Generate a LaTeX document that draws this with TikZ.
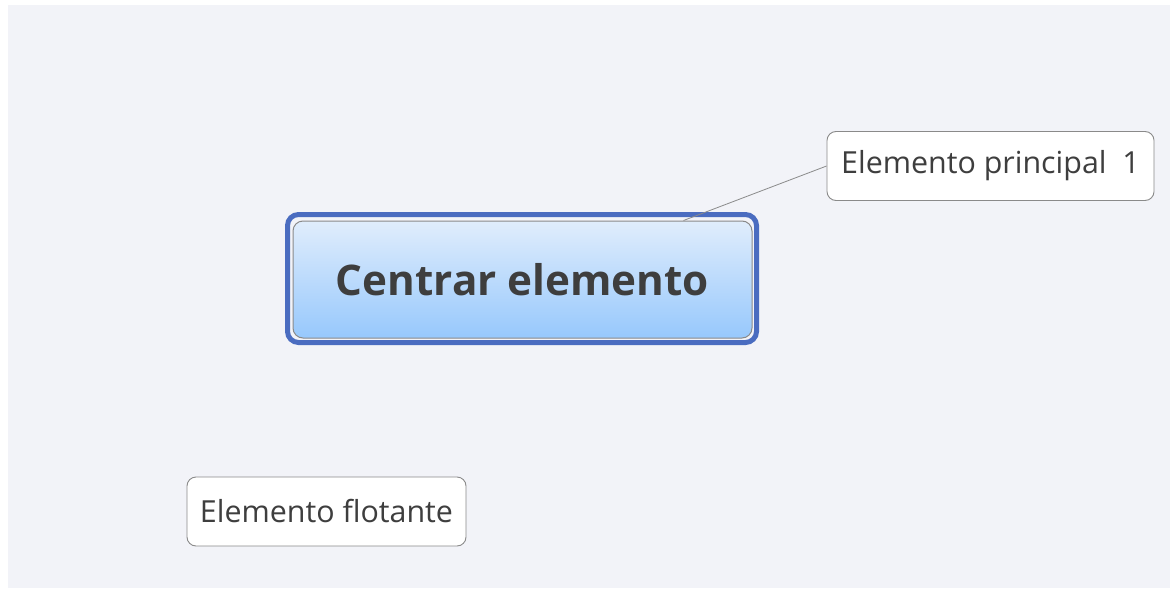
\documentclass[tikz,border=0pt]{standalone}
\usepackage{fontspec}
\setmainfont{Open Sans}
\definecolor{canvas}{HTML}{F2F3F8}
\definecolor{topicblue}{HTML}{4A6CC0}
\definecolor{shadetop}{HTML}{E0EDFC}
\definecolor{shadebot}{HTML}{97C8FC}
\definecolor{edgegray}{HTML}{8A8A8A}
\definecolor{textgray}{HTML}{3E3E3E}
\begin{document}
\begin{tikzpicture}[x=1pt, y=-1pt]
        % Define block styles
        \tikzstyle{frame} = [rectangle, draw=topicblue, line width=5pt, rounded corners=11pt, minimum width=469pt, minimum height=128pt]
        \tikzstyle{central} = [rectangle, draw=edgegray, line width=1pt, top color=shadetop, bottom color=shadebot, rounded corners=10pt, minimum width=459pt, minimum height=117pt, text=textgray, font=\fontsize{42.2}{50}\selectfont\bfseries]
        \tikzstyle{topic} = [rectangle, draw=edgegray, fill=white, line width=0.9pt, rounded corners=9pt, minimum height=69pt, text=textgray, font=\fontsize{30.4}{36}\selectfont]
        \tikzstyle{line} = [draw=edgegray, line width=0.8pt]

        % Background
        \fill[white] (0,0) rectangle (1170,589);
        \fill[canvas] (8,5) rectangle (1170,588);
        \useasboundingbox (0,0) rectangle (1170,589);

        % Place nodes
        \node [frame] (frame1) at (522,278.5) {};
        \node [central] (center1) at (522.5,279.5) {Centrar elemento};
        \node [topic, minimum width=327pt] (main1) at (990.5,166) {Elemento principal\ \ 1};
        \node [topic, minimum width=279pt] (float1) at (326.5,511.5) {Elemento flotante};

        % Connector
        \coordinate (link1) at ([xshift=161pt]center1.north);
        \path [line] (link1) -- (main1.west);
    \end{tikzpicture}
\end{document}
